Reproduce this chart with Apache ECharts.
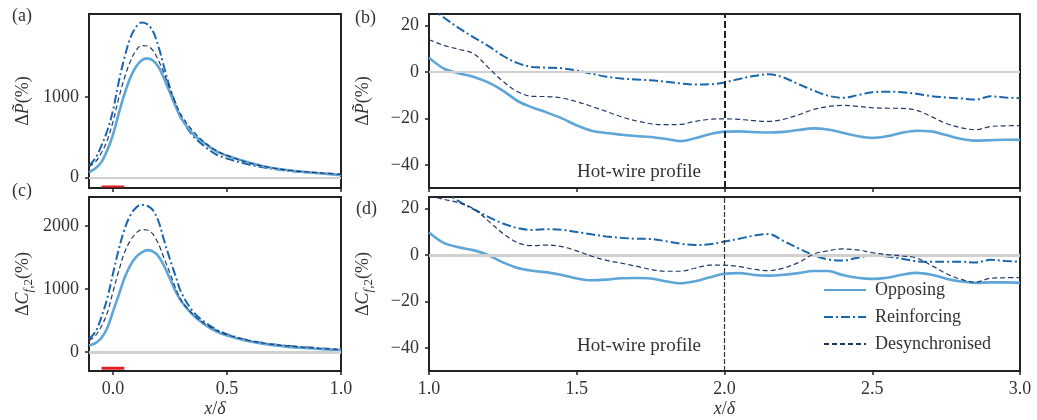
<!DOCTYPE html>
<html>
<head>
<meta charset="utf-8">
<script src="https://cdn.jsdelivr.net/npm/echarts@6/dist/echarts.min.js"></script>
<style>
  html, body { margin: 0; padding: 0; background: #fff; }
  #chart { width: 1037px; height: 420px; }
</style>
</head>
<body>
<div id="chart"></div>
<script>
// Streamwise positions (x/delta) near the forcing region
const X_NEAR = [-0.105, -0.075, -0.05, -0.025, 0, 0.025, 0.05, 0.075, 0.1, 0.125, 0.15, 0.175, 0.2,
  0.225, 0.25, 0.275, 0.3, 0.35, 0.4, 0.45, 0.5, 0.6, 0.7, 0.8, 0.9, 1.0];

// Delta P~ (%) near field
const P_NEAR_OPPOSING = [65, 120, 195, 340, 530, 790, 1030, 1230, 1370, 1450, 1476, 1450, 1370,
  1220, 1050, 880, 730, 545, 430, 330, 270, 185, 118, 80, 55, 29];
const P_NEAR_REINFORCING = [145, 250, 400, 580, 830, 1180, 1480, 1720, 1860, 1920, 1900, 1815, 1620,
  1360, 1110, 910, 735, 520, 390, 290, 235, 160, 108, 75, 57, 40];
const P_NEAR_DESYNC = [135, 200, 310, 460, 690, 980, 1230, 1430, 1570, 1635, 1630, 1575, 1450,
  1285, 1100, 920, 770, 580, 440, 340, 275, 180, 120, 82, 60, 40];

// Delta Cf,2 (%) near field
const CF_NEAR_OPPOSING = [100, 145, 225, 380, 640, 900, 1170, 1365, 1500, 1575, 1615, 1595, 1515,
  1360, 1160, 960, 800, 590, 440, 330, 260, 165, 108, 72, 48, 27];
const CF_NEAR_REINFORCING = [200, 330, 560, 850, 1240, 1620, 1940, 2160, 2285, 2335, 2320, 2250, 2070,
  1760, 1470, 1200, 940, 645, 480, 360, 280, 180, 122, 86, 60, 37];
const CF_NEAR_DESYNC = [180, 265, 410, 620, 950, 1280, 1570, 1760, 1880, 1940, 1935, 1870, 1710,
  1480, 1250, 1010, 820, 600, 455, 350, 275, 178, 120, 84, 58, 37];

// Streamwise positions (x/delta) further downstream
const X_FAR = [1.0, 1.05, 1.1, 1.15, 1.2, 1.25, 1.3, 1.35, 1.4, 1.45, 1.5, 1.55, 1.6, 1.65, 1.7, 1.75,
  1.8, 1.85, 1.9, 1.95, 2.0, 2.05, 2.1, 2.15, 2.2, 2.25, 2.3, 2.35, 2.4, 2.45, 2.5, 2.55, 2.6, 2.65,
  2.7, 2.75, 2.8, 2.85, 2.9, 2.95, 3.0];

const P_FAR_OPPOSING = [6.2, 1.5, -0.5, -2, -4.5, -8, -12.5, -15.3, -17.5, -20, -23, -25.3, -26.3, -27,
  -27.6, -28, -28.8, -29.8, -28.6, -26.8, -25.7, -25.6, -25.9, -26.1, -25.8, -25, -24.3, -24.8, -26.2,
  -27.6, -28.4, -27.7, -26.2, -25.3, -25.6, -27.2, -28.8, -29.6, -29.4, -29.2, -29.2];
const P_FAR_REINFORCING = [28, 23.5, 19, 15, 11.3, 7, 3.8, 2.2, 1.9, 1.6, 0.6, -0.7, -2, -2.8, -3.2, -3.6,
  -4.2, -4.9, -5.4, -5.3, -4.5, -3, -1.7, -1, -2.4, -5.2, -7.9, -10.2, -11.1, -10, -8.7, -8.5, -8.7,
  -9.4, -10.4, -11, -11.4, -11.9, -10.5, -11, -11.3];
const P_FAR_DESYNC = [14, 11.5, 9.8, 8, 2, -4, -8.5, -10.5, -10.6, -11.2, -12.8, -14.8, -17, -19.3, -21,
  -22.3, -22.7, -22.6, -21.3, -20.4, -20.2, -20.4, -21, -21.3, -20.4, -18.5, -16.2, -14.9, -14.4, -14.8,
  -15.4, -15.6, -15.7, -16.5, -19.2, -22.2, -24, -24.9, -23.5, -23.2, -23.1];

const CF_FAR_OPPOSING = [9.7, 5.2, 3.3, 2.1, 0, -3.2, -5.6, -6.8, -7.5, -8.6, -10.1, -10.9, -10.6, -10,
  -9.9, -10.1, -11.3, -12.2, -11.3, -9.6, -8.1, -7.8, -8.6, -8.9, -8.5, -7.8, -6.9, -6.9, -8.6, -9.8,
  -10.3, -9.8, -8.5, -7.7, -8.5, -10.2, -11.4, -12, -11.8, -11.8, -12];
const CF_FAR_REINFORCING = [32, 27.5, 23.2, 19.8, 16.5, 13.6, 11.6, 10.8, 11.1, 10.9, 9.9, 8.9, 8, 7.4, 7, 6.9,
  6, 4.9, 4.3, 4.6, 5.8, 7, 8.4, 9, 6, 2.9, 0, -1.9, -2.4, -1.2, -0.3, -0.7, -1.6, -2.7, -2.9, -2.9,
  -2.9, -3.2, -2.1, -2.6, -2.9];
const CF_FAR_DESYNC = [25.5, 24, 22.5, 20, 14.8, 9.3, 5.3, 4, 4.3, 3.6, 1.8, -0.5, -2.3, -3.5, -4.8, -6.2,
  -7, -7, -5.7, -4.4, -4.4, -5, -6.2, -6.7, -5.6, -3.3, 0.3, 1.8, 2.6, 2.2, 1, 0.2, -0.4, -1.3, -4.5,
  -8, -10.5, -11.7, -10, -9.8, -9.7];

// Tick labels
const X_NEAR_TICKS = [0, 0.5, 1.0];
const X_FAR_TICKS = [1.0, 1.5, 2.0, 2.5, 3.0];
const P_NEAR_TICKS = [0, 1000];
const CF_NEAR_TICKS = [0, 1000, 2000];
const FAR_Y_TICKS = [-40, -20, 0, 20];

// Forcing strip extent and hot-wire station
const ACTUATOR_X = [-0.05, 0.05];
const HOTWIRE_X = 2.0;

const NAMES = ['Opposing', 'Reinforcing', 'Desynchronised'];

const FONT = '"Liberation Serif", "DejaVu Serif", serif';
const TEXT = '#333';
const FRAME = '#222';
const C_OPP = '#5fa6d8';
const C_REI = '#1a66ad';
const C_DES = '#24396a';

const pairs = (xs, ys) => xs.map((x, i) => [x, ys[i]]);
const fmt1 = v => v.toFixed(1);
const fmtInt = v => (v < 0 ? '\u2212' + Math.abs(v) : String(v));

const styles = {
  Opposing: { color: C_OPP, width: 2.6, type: 'solid', z: 4 },
  Reinforcing: { color: C_REI, width: 2.0, type: [9, 3, 2, 3], z: 3 },
  Desynchronised: { color: C_DES, width: 1.2, type: [5, 3], z: 5 }
};

function curve(name, idx, xs, ys) {
  const s = styles[name];
  return {
    name, type: 'line', xAxisIndex: idx, yAxisIndex: idx,
    data: pairs(xs, ys), showSymbol: false, symbol: 'none', smooth: 0.35,
    lineStyle: { color: s.color, width: s.width, type: s.type },
    itemStyle: { color: s.color },
    z: s.z, silent: true
  };
}

// Zero reference line, plus the hot-wire station marker on the downstream panels
function guides(idx, zeroWidth, vertical) {
  const data = [{ yAxis: 0, lineStyle: { color: '#d0d0d0', width: zeroWidth, type: 'solid' } }];
  if (vertical) data.push({ xAxis: HOTWIRE_X, lineStyle: vertical });
  return {
    type: 'line', xAxisIndex: idx, yAxisIndex: idx, data: [], z: 1, silent: true,
    markLine: { symbol: 'none', silent: true, label: { show: false }, animation: false, data }
  };
}

// Red strip marking the streamwise extent of the forcing
function actuator(idx, level, width) {
  return {
    type: 'line', xAxisIndex: idx, yAxisIndex: idx, z: 6, silent: true,
    data: ACTUATOR_X.map(x => [x, level]), symbol: 'none',
    lineStyle: { color: '#e32226', width }
  };
}

const tick = { inside: false, length: 4, lineStyle: { color: FRAME, width: 1.5 } };
const labelStyle = { fontFamily: FONT, fontSize: 18, color: TEXT };

function xAxis(idx, near, showLabels) {
  const ticks = near ? X_NEAR_TICKS : X_FAR_TICKS;
  return {
    gridIndex: idx, type: 'value', position: 'bottom',
    min: near ? -0.105 : 1.0, max: near ? 1.0 : 3.0,
    axisLine: { show: false, onZero: false },
    axisTick: Object.assign({ customValues: ticks }, tick),
    axisLabel: Object.assign({ show: showLabels, customValues: ticks, margin: 9, formatter: fmt1 }, labelStyle),
    splitLine: { show: false },
    name: showLabels ? '{i|x}{n|/}{i|\u03b4}' : '',
    nameLocation: 'middle', nameGap: 29,
    nameTextStyle: {
      fontFamily: FONT, fontSize: 18, color: TEXT,
      rich: { i: { fontFamily: FONT, fontSize: 18, fontStyle: 'italic', color: TEXT },
              n: { fontFamily: FONT, fontSize: 18, color: TEXT } }
    }
  };
}

const nameRich = {
  d: { fontFamily: FONT, fontSize: 18, color: TEXT, lineHeight: 24, verticalAlign: 'middle' },
  i: { fontFamily: FONT, fontSize: 18, fontStyle: 'italic', color: TEXT, lineHeight: 24, verticalAlign: 'middle' },
  s: { fontFamily: FONT, fontSize: 13, fontStyle: 'italic', color: TEXT, lineHeight: 24, verticalAlign: 'bottom' },
  sn: { fontFamily: FONT, fontSize: 13, color: TEXT, lineHeight: 24, verticalAlign: 'bottom' }
};
const NAME_P = '{d|\u0394}{i|P\u0303}{d|(%)}';
const NAME_CF = '{d|\u0394}{i|C}{s|f}{sn|,2}{d|(%)}';

function yAxis(idx, min, max, ticks, name, formatter) {
  return {
    gridIndex: idx, type: 'value', min, max, position: 'left',
    axisLine: { show: false, onZero: false },
    axisTick: Object.assign({ customValues: ticks }, tick),
    axisLabel: Object.assign({ customValues: ticks, margin: 10, formatter }, labelStyle),
    splitLine: { show: false },
    name, nameLocation: 'middle', nameGap: 54, nameRotate: 90,
    nameTextStyle: { fontFamily: FONT, fontSize: 18, color: TEXT, rich: nameRich }
  };
}

const gridBase = { show: true, borderColor: FRAME, borderWidth: 2, backgroundColor: 'transparent', containLabel: false };

const panelText = (text, x, y) => ({
  type: 'text', left: x, top: y,
  style: { text, font: '18px ' + FONT, fill: TEXT }
});
const hotwireText = (y) => ({
  type: 'text', right: 1037 - 701, top: y,
  style: { text: 'Hot-wire profile', font: '19px ' + FONT, fill: TEXT }
});

const option = {
  animation: false,
  backgroundColor: '#fff',
  grid: [
    Object.assign({ left: 89, top: 14, width: 252, height: 174 }, gridBase),
    Object.assign({ left: 429, top: 14, width: 591, height: 174 }, gridBase),
    Object.assign({ left: 89, top: 197, width: 252, height: 174 }, gridBase),
    Object.assign({ left: 429, top: 197, width: 591, height: 174 }, gridBase)
  ],
  xAxis: [xAxis(0, true, false), xAxis(1, false, false), xAxis(2, true, true), xAxis(3, false, true)],
  yAxis: [
    yAxis(0, -129, 2026, P_NEAR_TICKS, NAME_P, fmtInt),
    yAxis(1, -50, 25, FAR_Y_TICKS, NAME_P, fmtInt),
    yAxis(2, -303, 2459, CF_NEAR_TICKS, NAME_CF, fmtInt),
    yAxis(3, -50, 25, FAR_Y_TICKS, NAME_CF, fmtInt)
  ],
  legend: {
    data: NAMES, orient: 'vertical', left: 818, top: 276,
    itemWidth: 42, itemHeight: 18, itemGap: 9,
    itemStyle: { opacity: 0, borderWidth: 0 },
    textStyle: { fontFamily: FONT, fontSize: 18, color: TEXT, padding: [0, 0, 0, 4] },
    selectedMode: false
  },
  graphic: [
    panelText('(a)', 12, 7),
    panelText('(c)', 12, 182),
    panelText('(b)', 355, 9),
    panelText('(d)', 356, 200),
    hotwireText(163),
    hotwireText(337)
  ],
  series: [
    guides(0, 2, null), guides(2, 3, null),
    guides(1, 2, { color: FRAME, width: 2, type: [7, 3] }),
    guides(3, 3, { color: '#333', width: 1.2, type: [5, 2] }),
    actuator(0, -110, 2), actuator(2, -258, 3),
    curve('Opposing', 0, X_NEAR, P_NEAR_OPPOSING),
    curve('Reinforcing', 0, X_NEAR, P_NEAR_REINFORCING),
    curve('Desynchronised', 0, X_NEAR, P_NEAR_DESYNC),
    curve('Opposing', 1, X_FAR, P_FAR_OPPOSING),
    curve('Reinforcing', 1, X_FAR, P_FAR_REINFORCING),
    curve('Desynchronised', 1, X_FAR, P_FAR_DESYNC),
    curve('Opposing', 2, X_NEAR, CF_NEAR_OPPOSING),
    curve('Reinforcing', 2, X_NEAR, CF_NEAR_REINFORCING),
    curve('Desynchronised', 2, X_NEAR, CF_NEAR_DESYNC),
    curve('Opposing', 3, X_FAR, CF_FAR_OPPOSING),
    curve('Reinforcing', 3, X_FAR, CF_FAR_REINFORCING),
    curve('Desynchronised', 3, X_FAR, CF_FAR_DESYNC)
  ]
};

const chart = echarts.init(document.getElementById('chart'), null, { renderer: 'canvas' });
chart.setOption(option);
</script>
</body>
</html>
